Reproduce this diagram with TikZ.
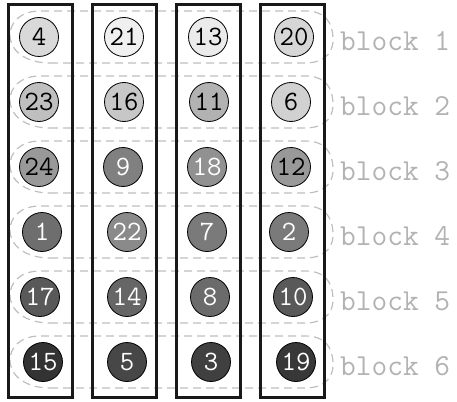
\documentclass[tikz,border=0pt]{standalone}
\usepackage{tikz}

\begin{document}
\begin{tikzpicture}[x=1pt,y=-1pt,
  ball/.style={draw,circle,minimum size=39pt,inner sep=0pt,line width=0.8pt,font=\ttfamily\fontsize{28}{28}\selectfont},
  col/.style={draw=black!90,line width=3pt},
  blk/.style={draw=black!25,dashed,dash pattern=on 8pt off 5pt,line width=1.2pt},
  lbl/.style={anchor=west,inner sep=0pt,text=black!30,font=\ttfamily\fontsize{30.5}{30.5}\selectfont}]
  \useasboundingbox (0,0) rectangle (457,401);
  % dashed block rings and their labels
  \foreach \r in {1,...,6}{
    \pgfmathsetmacro\y{37+65*(\r-1)}
    \draw[blk] (50,\y+26) -- (305,\y+26) .. controls (328,\y+26) and (334,\y+12) .. (333,\y)
      .. controls (332,\y-14) and (326,\y-26) .. (305,\y-26) -- (40,\y-26)
      .. controls (20,\y-26) and (10,\y-14) .. (10,\y-2) .. controls (10,\y+14) and (26,\y+26) .. (50,\y+26) -- cycle;
    \node[lbl] (b\r) at (340,\y+4) {block \r};
  }
  % columns
  \foreach \c in {1,...,4}\draw[col] ({8+84*(\c-1)},5) rectangle ++(64,392);
  % balls: row/col/number/gray/text/x shift
  \foreach \r/\c/\n/\g/\t/\dx in {
    1/1/4/15/black/-1, 1/2/21/6/black/0, 1/3/13/8/black/0, 1/4/20/16/black/2,
    2/1/23/25/black/-1, 2/2/16/22/black/0, 2/3/11/30/black/1, 2/4/6/18/black/-1,
    3/1/24/40/black/-1, 3/2/9/50/white/-1, 3/3/18/43/white/-1, 3/4/12/40/black/-1,
    4/1/1/57/white/2, 4/2/22/46/white/3, 4/3/7/52/white/-1, 4/4/2/52/white/-3,
    5/1/17/65/white/0, 5/2/14/60/white/3, 5/3/8/58/white/2, 5/4/10/65/white/1,
    6/1/15/80/white/3, 6/2/5/72/white/3, 6/3/3/75/white/3, 6/4/19/78/white/4}
    \node[ball,fill=black!\g,text=\t] (n\r\c) at ({40+84*(\c-1)+\dx},{37+65*(\r-1)}) {\n};
\end{tikzpicture}
\end{document}
